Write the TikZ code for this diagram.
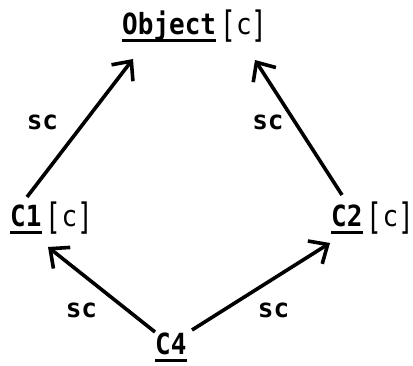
\documentclass[tikz,border=0pt]{standalone}
\usepackage{fontspec}
\setmonofont{DejaVu Sans Mono}
\usetikzlibrary{arrows.meta}
\newcommand\ulword[1]{\setbox0\hbox{\scalebox{1}[1.12]{#1}}\rlap{\rule[-7pt]{\wd0}{2.6pt}}\box0}
\newcommand\tallbr[1]{\raisebox{-3pt}{\scalebox{1}[1.4]{#1}}}
\newcommand\brc{\tallbr{[}\scalebox{1}[1.12]{c}\tallbr{]}}
\tikzset{
  lbl/.style={font=\ttfamily\bfseries\fontsize{26}{28}\selectfont, inner sep=0pt, anchor=base west},
  brk/.style={font=\ttfamily\fontsize{26}{28}\selectfont, inner sep=0pt, anchor=base west, xshift=4pt},
  sclbl/.style={font=\ttfamily\bfseries\fontsize{26}{28}\selectfont, inner sep=0pt},
  arr/.style={line width=3.6pt, -{Straight Barb[length=15pt,width=27pt]}}
}
\begin{document}
\begin{tikzpicture}[x=1pt,y=1pt]
\useasboundingbox (0,0) rectangle (413,366);
\node[lbl] (obj) at (122,331) {\ulword{Object}};
\node[brk] (objc) at (obj.base east) {\brc};
\node[lbl] (c1) at (10,139) {\ulword{C1}};
\node[brk] (c1c) at (c1.base east) {\brc};
\node[lbl] (c2) at (331,139) {\ulword{C2}};
\node[brk] (c2c) at (c2.base east) {\brc};
\node[lbl] (c4) at (155,11) {\ulword{C4}};
\draw[arr] ([shift={(17,30)}]c1.base west) -- ([shift={(11,-24)}]obj.base west);
\draw[arr] ([shift={(11,32)}]c2.base west) -- ([shift={(133,-25)}]obj.base west);
\draw[arr] ([shift={(0,23)}]c4.base west) -- ([shift={(38,-20)}]c1.base west);
\draw[arr] ([shift={(37,25)}]c4.base west) -- ([shift={(-1,-16)}]c2.base west);
\node[sclbl] (s1) at (42.5,243.5) {sc};
\node[sclbl] (s2) at (268,243.5) {sc};
\node[sclbl] (s3) at (81.5,55.5) {sc};
\node[sclbl] (s4) at (273.5,55.5) {sc};
\end{tikzpicture}
\end{document}
